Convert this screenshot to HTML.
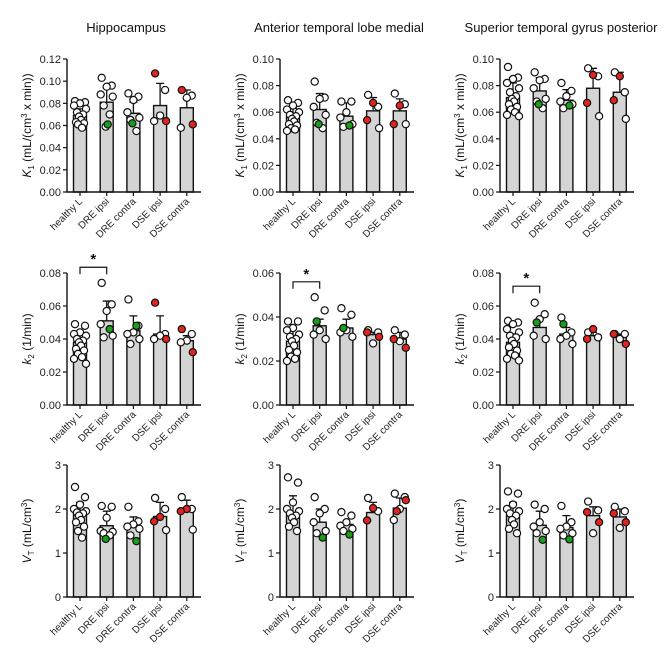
<!DOCTYPE html>
<html><head><meta charset="utf-8"><style>
html,body{margin:0;padding:0;background:#fff;}
svg{display:block;font-family:"Liberation Sans",Arial,sans-serif;}
</style></head><body>
<svg id="fig" width="669" height="669" viewBox="0 0 669 669" xmlns="http://www.w3.org/2000/svg"></svg>
<script>
const categories = ["healthy L","DRE ipsi","DRE contra","DSE ipsi","DSE contra"];
const regionTitles = ["Hippocampus","Anterior temporal lobe medial","Superior temporal gyrus posterior"];
// point color codes: w=white, r=red, g=green
// ---- Hippocampus ----
const hipK1Means=[0.069,0.081,0.071,0.078,0.076];
const hipK1Err=[0.075,0.094,0.081,0.098,0.092];
const hipK1Pts=[[0.082,0.081,0.080,0.078,0.075,0.072,0.070,0.068,0.065,0.063,0.062,0.061,0.058],[0.103,0.096,0.095,0.088,0.086,0.078,0.070,0.059,0.061],[0.089,0.086,0.083,0.072,0.067,0.065,0.055,0.062],[0.107,0.092,0.069,0.064,0.064],[0.092,0.087,0.085,0.058,0.061]];
const hipK1Col=[[],["w","w","w","w","w","w","w","w","g"],["w","w","w","w","w","w","w","g"],["r","w","w","w","r"],["r","w","w","w","r"]];
const hipk2Means=[0.038,0.051,0.045,0.043,0.039];
const hipk2Err=[0.043,0.063,0.054,0.054,0.042];
const hipk2Pts=[[0.049,0.048,0.044,0.043,0.042,0.040,0.039,0.038,0.036,0.034,0.033,0.031,0.029,0.028,0.025],[0.074,0.061,0.057,0.049,0.042,0.041,0.046],[0.064,0.048,0.044,0.043,0.040,0.037,0.048],[0.062,0.043,0.042,0.040,0.040],[0.046,0.043,0.039,0.038,0.032]];
const hipk2Col=[[],["w","w","w","w","w","w","g"],["w","w","w","w","w","w","g"],["r","w","w","w","r"],["r","w","w","w","r"]];
const hipVTMeans=[1.9,1.62,1.6,1.83,1.95];
const hipVTErr=[2.15,1.95,1.82,2.15,2.2];
const hipVTPts=[[2.5,2.27,2.1,2.0,1.95,1.92,1.9,1.85,1.75,1.7,1.6,1.5,1.35],[2.07,2.05,1.8,1.5,1.48,1.45,1.4,1.32],[2.05,1.72,1.65,1.6,1.55,1.4,1.27],[2.25,2.0,1.82,1.72,1.52],[2.27,2.0,2.0,1.95,1.53]];
const hipVTCol=[[],["w","w","w","w","w","w","w","g"],["w","w","w","w","w","w","g"],["w","w","r","r","w"],["w","w","r","r","w"]];
// ---- Anterior temporal lobe medial ----
const atlK1Means=[0.057,0.062,0.057,0.061,0.061];
const atlK1Err=[0.063,0.074,0.067,0.071,0.070];
const atlK1Pts=[[0.069,0.067,0.065,0.062,0.060,0.058,0.057,0.055,0.053,0.051,0.050,0.048,0.047,0.046],[0.083,0.071,0.070,0.064,0.058,0.052,0.048,0.051],[0.068,0.068,0.060,0.056,0.051,0.049,0.050],[0.073,0.064,0.067,0.054,0.048],[0.074,0.066,0.065,0.051,0.051]];
const atlK1Col=[[],["w","w","w","w","w","w","w","g"],["w","w","w","w","w","w","g"],["w","w","r","r","w"],["w","w","r","r","w"]];
const atlk2Means=[0.029,0.036,0.035,0.032,0.030];
const atlk2Err=[0.035,0.039,0.039,0.033,0.033];
const atlk2Pts=[[0.038,0.038,0.035,0.034,0.032,0.031,0.030,0.029,0.027,0.025,0.024,0.022,0.021,0.020],[0.049,0.043,0.034,0.032,0.030,0.038],[0.044,0.041,0.034,0.033,0.031,0.035],[0.034,0.033,0.028,0.033,0.031],[0.034,0.032,0.029,0.030,0.026]];
const atlk2Col=[[],["w","w","w","w","w","g"],["w","w","w","w","w","g"],["w","w","w","r","r"],["w","w","w","r","r"]];
const atlVTMeans=[1.92,1.7,1.65,1.92,2.02];
const atlVTErr=[2.3,2.0,1.7,2.15,2.25];
const atlVTPts=[[2.72,2.6,2.15,2.0,1.95,1.9,1.85,1.8,1.7,1.6,1.5],[2.27,2.0,1.9,1.7,1.5,1.45,1.35],[1.93,1.85,1.7,1.62,1.55,1.5,1.42],[2.25,1.95,2.02,1.74],[2.35,2.27,2.0,1.75,2.2,1.95]];
const atlVTCol=[[],["w","w","w","w","w","w","g"],["w","w","w","w","w","w","g"],["w","w","r","r"],["w","w","w","w","r","r"]];
// ---- Superior temporal gyrus posterior ----
const stgK1Means=[0.071,0.076,0.069,0.078,0.075];
const stgK1Err=[0.082,0.086,0.077,0.093,0.090];
const stgK1Pts=[[0.094,0.086,0.085,0.082,0.078,0.075,0.072,0.070,0.068,0.066,0.064,0.062,0.060,0.058,0.057],[0.090,0.085,0.084,0.078,0.070,0.068,0.063,0.066],[0.082,0.076,0.072,0.068,0.066,0.063,0.065],[0.093,0.087,0.088,0.067,0.057],[0.090,0.075,0.087,0.069,0.055]];
const stgK1Col=[[],["w","w","w","w","w","w","w","g"],["w","w","w","w","w","w","g"],["w","w","r","r","w"],["w","w","r","r","w"]];
const stgk2Means=[0.038,0.047,0.043,0.042,0.041];
const stgk2Err=[0.043,0.052,0.047,0.044,0.043];
const stgk2Pts=[[0.051,0.050,0.049,0.046,0.044,0.042,0.041,0.039,0.037,0.035,0.033,0.031,0.030,0.028,0.027],[0.062,0.055,0.052,0.042,0.040,0.050],[0.053,0.044,0.042,0.040,0.037,0.049],[0.044,0.041,0.046,0.040],[0.043,0.043,0.040,0.043,0.037]];
const stgk2Col=[[],["w","w","w","w","w","g"],["w","w","w","w","w","g"],["w","w","r","r"],["w","w","w","r","r"]];
const stgVTMeans=[1.88,1.63,1.58,1.85,1.82];
const stgVTErr=[2.15,1.95,1.85,2.05,2.0];
const stgVTPts=[[2.4,2.35,2.1,2.0,1.95,1.9,1.85,1.75,1.65,1.55,1.45],[2.1,2.0,1.7,1.6,1.5,1.45,1.3],[2.07,1.7,1.6,1.55,1.45,1.4,1.31],[2.17,1.97,1.45,1.93,1.7],[2.05,1.95,1.57,1.9,1.7]];
const stgVTCol=[[],["w","w","w","w","w","w","g"],["w","w","w","w","w","w","g"],["w","w","w","r","r"],["w","w","w","r","r"]];
// axis maxima and ticks
const yMaxK1=[0.12,0.10,0.10];
const yMaxk2=[0.08,0.06,0.08];
const yMaxVT=[3,3,3];
const tickStepK1=0.02, tickStepk2=0.02, tickStepVT=1;
const sigBracket=[0.0835,0.056,0.072]; // k2 significance bracket level per region

const NS="http://www.w3.org/2000/svg";
const svg=document.getElementById('fig');
function mk(tag,attrs,parent){const e=document.createElementNS(NS,tag);for(const k in attrs)e.setAttribute(k,attrs[k]);(parent||svg).appendChild(e);return e;}
const colX=[67,280,500];
const rowTop=[59,273,465], rowZero=[192,405,597];
const colorMap={w:"#ffffff",r:"#e3231f",g:"#17a017"};
const jit=[-5,5,0,-6,6,-3,3,-1,1,-4,4,-2,2,-6,6];

const panels=[
 [[hipK1Means,hipK1Err,hipK1Pts,hipK1Col],[hipk2Means,hipk2Err,hipk2Pts,hipk2Col],[hipVTMeans,hipVTErr,hipVTPts,hipVTCol]],
 [[atlK1Means,atlK1Err,atlK1Pts,atlK1Col],[atlk2Means,atlk2Err,atlk2Pts,atlk2Col],[atlVTMeans,atlVTErr,atlVTPts,atlVTCol]],
 [[stgK1Means,stgK1Err,stgK1Pts,stgK1Col],[stgk2Means,stgk2Err,stgk2Pts,stgk2Col],[stgVTMeans,stgVTErr,stgVTPts,stgVTCol]]
];
const yMaxes=[yMaxK1,yMaxk2,yMaxVT], steps=[tickStepK1,tickStepk2,tickStepVT];

for(let c=0;c<3;c++){
  const t=mk('text',{x:[126,339,561][c],y:32,'text-anchor':'middle','font-size':13,fill:'#111'});
  t.textContent=regionTitles[c];
  
  
  for(let r=0;r<3;r++){
    const g=mk('g',{});
    
    
    const x0=colX[c], top=rowTop[r], zero=rowZero[r], ymax=yMaxes[r][c];
    const yS=v=>zero-(v/ymax)*(zero-top);
    const xS=i=>x0+13+26.7*i;
    const [means,errs,pts,cols]=panels[c][r];
    means.forEach((m,i)=>{
      const b=mk('rect',{x:xS(i)-6.5,y:yS(m),width:13,height:zero-yS(m),fill:'#d4d4d4',stroke:'#111','stroke-width':1.4},g);
      
      
      const e=mk('path',{d:`M${xS(i)} ${yS(m)}V${yS(errs[i])}M${xS(i)-4} ${yS(errs[i])}H${xS(i)+4}`,stroke:'#111','stroke-width':1.3,fill:'none'},g);
      
      
    });
    pts.forEach((arr,i)=>{
      arr.forEach((v,j)=>{
        const cc=(cols[i]&&cols[i][j])||'w';
        const p=mk('circle',{cx:xS(i)+jit[j%jit.length],cy:yS(v),r:3.6,fill:colorMap[cc],stroke:'#111','stroke-width':1.2},g);
        
        
      });
    });
    const ax=mk('path',{d:`M${x0} ${top}V${zero}H${x0+134}`,stroke:'#111','stroke-width':1.4,fill:'none'},g);
    
    
    const st=steps[r], n=Math.round(ymax/st);
    for(let k=0;k<=n;k++){
      const v=k*st, y=yS(v);
      mk('line',{x1:x0-4,x2:x0,y1:y,y2:y,stroke:'#111','stroke-width':1.2},g);
      const tl=mk('text',{x:x0-6,y:y+4,'text-anchor':'end','font-size':11,fill:'#222'},g);
      tl.textContent=r<2?v.toFixed(2):String(v);
      
      
    }
    categories.forEach((cat,i)=>{
      mk('line',{x1:xS(i),x2:xS(i),y1:zero,y2:zero+4,stroke:'#111','stroke-width':1.2},g);
      const cl=mk('text',{x:xS(i)+3,y:zero+10,'text-anchor':'end','font-size':10,fill:'#222',transform:`rotate(-45 ${xS(i)+3} ${zero+10})`},g);
      cl.textContent=cat;
      
      
    });
    const ty=(top+zero)/2, tx=x0-36;
    const yt=mk('text',{x:tx,y:ty,'text-anchor':'middle','font-size':12,fill:'#111',transform:`rotate(-90 ${tx} ${ty})`},g);
    
    
    if(r===0) yt.innerHTML='<tspan font-style="italic">K</tspan><tspan font-size="8" dy="3">1</tspan><tspan dy="-3"> (mL/(cm</tspan><tspan font-size="8" dy="-4">3</tspan><tspan dy="4"> x min))</tspan>';
    else if(r===1) yt.innerHTML='<tspan font-style="italic">k</tspan><tspan font-size="8" dy="3">2</tspan><tspan dy="-3"> (1/min)</tspan>';
    else yt.innerHTML='<tspan font-style="italic">V</tspan><tspan font-size="8" dy="3">T</tspan><tspan dy="-3"> (mL/cm</tspan><tspan font-size="8" dy="-4">3</tspan><tspan dy="4">)</tspan>';
    if(r===1){
      const yb=yS(sigBracket[c]);
      const br=mk('path',{d:`M${xS(0)} ${yb+7}V${yb}H${xS(1)}V${yb+7}`,stroke:'#111','stroke-width':1.2,fill:'none'},g);
      
      
      const s=mk('text',{x:(xS(0)+xS(1))/2,y:yb-3,'text-anchor':'middle','font-size':15,'font-weight':'bold',fill:'#111'},g);
      s.textContent='*';
      
      
    }
  }
}
</script>
</body></html>
